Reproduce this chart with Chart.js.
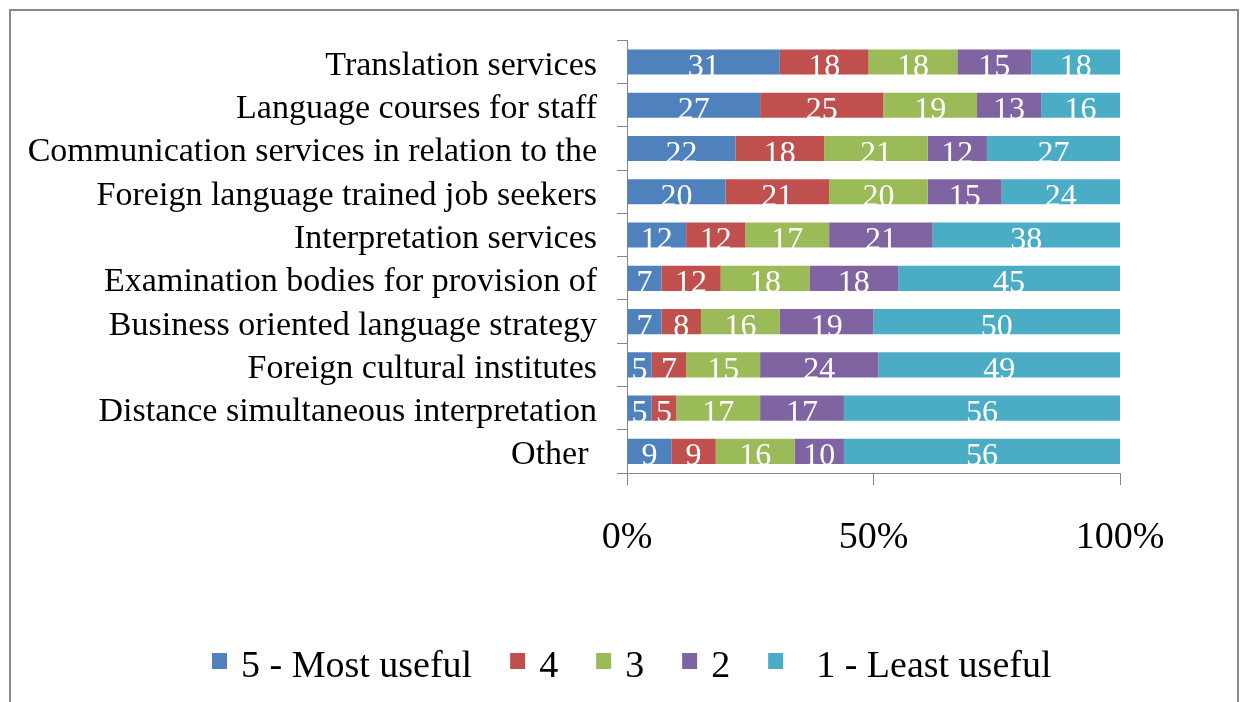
<!DOCTYPE html>
<html>
<head>
<meta charset="utf-8">
<script src="https://cdn.jsdelivr.net/npm/chart.js@4"></script>
<style>
  html, body { margin: 0; padding: 0; background: #fff; }
  #wrap { width: 1242px; height: 702px; }
</style>
</head>
<body>
<div id="wrap"><canvas id="usefulChart" width="1242" height="702"></canvas></div>
<script>
// categories, top to bottom
const services = [
  "Translation services",
  "Language courses for staff",
  "Communication services in relation to the",
  "Foreign language trained job seekers",
  "Interpretation services",
  "Examination bodies for provision of",
  "Business oriented language strategy",
  "Foreign cultural institutes",
  "Distance simultaneous interpretation",
  "Other "
];

// share of answers per rating (%)
const mostUseful5 = [31, 27, 22, 20, 12, 7, 7, 5, 5, 9];
const rating4 = [18, 25, 18, 21, 12, 12, 8, 7, 5, 9];
const rating3 = [18, 19, 21, 20, 17, 18, 16, 15, 17, 16];
const rating2 = [15, 13, 12, 15, 21, 18, 19, 24, 17, 10];
const leastUseful1 = [18, 16, 27, 24, 38, 45, 50, 49, 56, 56];

const seriesNames = ["5 - Most useful", "4", "3", "2", "  1 - Least useful"];
const seriesColors = ["#4F81BD", "#C0504D", "#9BBB59", "#8064A2", "#4BACC6"];
const xTicks = ["0%", "50%", "100%"];

const serif = "'Liberation Serif', 'Times New Roman', serif";
Chart.defaults.font.family = serif;
Chart.defaults.color = "#000";

// outer frame
const framePlugin = {
  id: "frame",
  beforeDraw(chart) {
    const ctx = chart.ctx;
    ctx.save();
    ctx.fillStyle = "#fff";
    ctx.fillRect(0, 0, chart.width, chart.height);
    ctx.strokeStyle = "#8a8a8a";
    ctx.lineWidth = 2;
    ctx.strokeRect(10, 10, 1228, 720);
    ctx.restore();
  }
};

// white value labels in the middle of each segment
const valueLabels = {
  id: "valueLabels",
  afterDatasetsDraw(chart) {
    const ctx = chart.ctx;
    ctx.save();
    ctx.font = "32px " + serif;
    ctx.fillStyle = "#fff";
    ctx.textAlign = "center";
    ctx.textBaseline = "alphabetic";
    chart.data.datasets.forEach((ds, i) => {
      chart.getDatasetMeta(i).data.forEach((bar, j) => {
        const cx = (bar.x + bar.base) / 2;
        ctx.fillText(String(ds.data[j]), cx, bar.y + 14);
      });
    });
    ctx.restore();
  }
};

// legend row under the axis, laid out left to right
const bottomLegend = {
  id: "bottomLegend",
  afterDraw(chart) {
    const ctx = chart.ctx;
    ctx.save();
    ctx.font = "38px " + serif;
    ctx.textBaseline = "alphabetic";
    ctx.textAlign = "left";
    let x = 212;
    chart.data.datasets.forEach((ds) => {
      ctx.fillStyle = ds.backgroundColor;
      ctx.fillRect(x, 653, 15, 16);
      ctx.fillStyle = "#000";
      const tx = x + 29;
      ctx.fillText(ds.label, tx, 677);
      x = tx + ctx.measureText(ds.label).width + 38;
    });
    ctx.restore();
  }
};

const seriesData = [mostUseful5, rating4, rating3, rating2, leastUseful1];

new Chart(document.getElementById("usefulChart"), {
  type: "bar",
  data: {
    labels: services,
    datasets: seriesData.map((d, i) => ({
      label: seriesNames[i],
      data: d,
      backgroundColor: seriesColors[i],
      borderWidth: 0,
      categoryPercentage: 1,
      barPercentage: 0.58
    }))
  },
  options: {
    indexAxis: "y",
    responsive: false,
    animation: false,
    layout: { padding: { top: 39, right: 122, left: 0, bottom: 0 } },
    plugins: {
      legend: { display: false },
      tooltip: { enabled: false }
    },
    scales: {
      x: {
        stacked: true,
        min: 0,
        max: 100,
        afterFit(scale) { scale.height = 229; },
        afterBuildTicks(scale) {
          scale.ticks = [0, 50, 100].map(v => ({ value: v }));
        },
        grid: {
          drawOnChartArea: false,
          drawTicks: true,
          tickLength: 12,
          color: "#868686"
        },
        border: { color: "#868686" },
        ticks: {
          padding: 30,
          maxRotation: 0,
          font: { size: 38 },
          callback: (v, idx) => xTicks[idx]
        }
      },
      y: {
        stacked: true,
        afterFit(scale) { scale.width = 627; },
        grid: {
          drawOnChartArea: false,
          drawTicks: true,
          tickLength: 10,
          offset: true,
          color: "#868686"
        },
        border: { color: "#868686" },
        ticks: {
          autoSkip: false,
          padding: 20,
          labelOffset: 4,
          font: { size: 34 }
        }
      }
    }
  },
  plugins: [framePlugin, valueLabels, bottomLegend]
});
</script>
</body>
</html>
